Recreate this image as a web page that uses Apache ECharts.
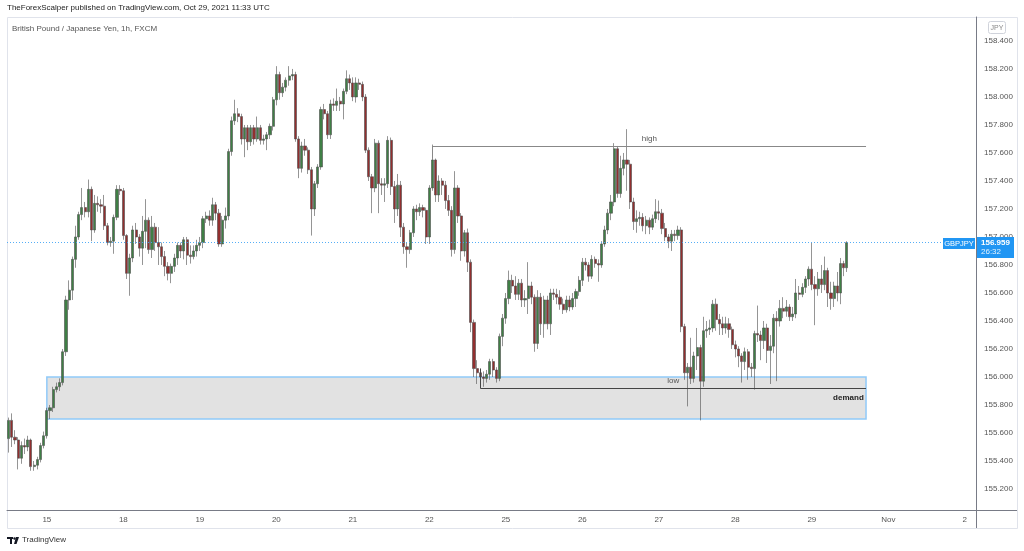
<!DOCTYPE html>
<html><head><meta charset="utf-8">
<script src="https://cdn.jsdelivr.net/npm/echarts@6/dist/echarts.min.js"></script>
<style>html,body{margin:0;padding:0;background:#fff}#c{width:1024px;height:551px}</style>
</head><body><div id="c"></div>
<script>
// ---- axis tick labels (x) ----
const tickLabels = ['15','18','19','20','21','22','25','26','27','28','29','Nov','2'];
const tickSlots  = [12,36,60,84,108,132,156,180,204,228,252,276,300];
const slotCount = 304;

// ---- hourly candles [open, close, low, high], GBPJPY FXCM ----
const oct14 = [
[155.56,155.69,155.46,155.71],[155.69,155.57,155.50,155.74],[155.57,155.55,155.52,155.62],[155.55,155.42,155.34,155.57],
[155.42,155.51,155.38,155.54],[155.51,155.50,155.45,155.56],[155.50,155.55,155.47,155.58],[155.55,155.36,155.33,155.56],
[155.36,155.37,155.33,155.40],[155.37,155.41,155.34,155.43],[155.41,155.51,155.39,155.53],[155.51,155.58,155.49,155.61]];
const oct15 = [
[155.58,155.76,155.56,155.78],[155.76,155.78,155.70,155.80],[155.78,155.91,155.75,155.93],[155.91,155.93,155.89,155.96],
[155.93,155.96,155.90,155.99],[155.96,156.18,155.94,156.20],[156.18,156.55,156.15,156.58],[156.55,156.62,156.48,156.69],
[156.62,156.84,156.55,156.86],[156.84,157.00,156.78,157.08],[157.00,157.16,156.98,157.18],[157.16,157.21,157.12,157.35],
[157.21,157.18,157.14,157.25],[157.18,157.34,157.14,157.41],[157.34,157.05,156.97,157.36],[157.05,157.24,157.03,157.30],
[157.24,157.23,157.18,157.29],[157.23,157.22,157.17,157.27],[157.22,157.08,157.05,157.30],[157.08,156.96,156.94,157.10],
[156.96,156.97,156.93,157.00],[156.97,157.14,156.88,157.16],[157.14,157.34,157.12,157.37],[157.34,157.33,157.30,157.37]];
const oct18 = [
[157.33,157.01,156.98,157.35],[157.01,156.74,156.70,157.02],[156.74,156.85,156.58,156.88],[156.85,157.05,156.82,157.08],
[157.05,157.00,156.95,157.10],[157.00,156.92,156.86,157.02],[156.92,157.04,156.80,157.15],[157.04,157.12,156.92,157.27],
[157.12,156.91,156.88,157.14],[156.91,157.07,156.85,157.15],[157.07,156.96,156.90,157.10],[156.96,156.93,156.80,157.07],
[156.93,156.86,156.80,156.96],[156.86,156.79,156.72,156.90],[156.79,156.74,156.69,156.82],[156.74,156.79,156.67,156.81],
[156.79,156.85,156.75,156.88],[156.85,156.94,156.80,156.96],[156.94,156.90,156.85,156.96],[156.90,156.98,156.84,157.00],
[156.98,156.87,156.80,157.00],[156.87,156.86,156.81,156.94],[156.86,156.90,156.84,156.94],[156.90,156.94,156.86,156.98]];
const oct19 = [
[156.94,156.96,156.90,157.00],[156.96,157.13,156.92,157.15],[157.13,157.15,157.10,157.18],[157.15,157.12,157.08,157.19],
[157.12,157.23,157.08,157.28],[157.23,157.17,157.12,157.25],[157.17,156.95,156.93,157.20],[156.95,157.12,156.93,157.15],
[157.12,157.15,157.06,157.21],[157.15,157.61,157.12,157.63],[157.61,157.83,157.58,157.86],[157.83,157.88,157.80,157.98],
[157.88,157.86,157.82,157.92],[157.86,157.70,157.66,157.88],[157.70,157.78,157.57,157.80],[157.78,157.68,157.62,157.80],
[157.68,157.78,157.65,157.80],[157.78,157.70,157.66,157.80],[157.70,157.78,157.68,157.86],[157.78,157.69,157.66,157.80],
[157.69,157.70,157.66,157.73],[157.70,157.73,157.62,157.75],[157.73,157.79,157.70,157.81],[157.79,157.98,157.76,158.00]];
const oct20 = [
[157.98,158.16,157.94,158.22],[158.16,158.03,157.98,158.18],[158.03,158.07,158.00,158.10],[158.07,158.12,158.04,158.14],
[158.12,158.15,158.08,158.22],[158.15,158.16,158.12,158.20],[158.16,157.70,157.68,158.18],[157.70,157.49,157.42,157.72],
[157.49,157.65,157.46,157.68],[157.65,157.62,157.58,157.70],[157.62,157.48,157.45,157.64],[157.48,157.20,157.01,157.50],
[157.20,157.38,157.15,157.40],[157.38,157.50,157.35,157.52],[157.50,157.91,157.48,157.93],[157.91,157.88,157.84,157.95],
[157.88,157.73,157.70,157.90],[157.73,157.95,157.70,157.98],[157.95,157.94,157.90,157.99],[157.94,157.97,157.90,158.06],
[157.97,157.95,157.90,158.00],[157.95,158.04,157.84,158.06],[158.04,158.13,158.02,158.19],[158.13,158.10,158.05,158.16]];
const oct21 = [
[158.10,158.00,157.97,158.14],[158.00,158.10,157.96,158.14],[158.10,158.09,158.05,158.13],[158.09,158.00,157.97,158.11],
[158.00,157.62,157.60,158.02],[157.62,157.43,157.40,157.64],[157.43,157.35,157.17,157.45],[157.35,157.67,157.32,157.70],
[157.67,157.38,157.17,157.69],[157.38,157.37,157.30,157.42],[157.37,157.38,157.25,157.42],[157.38,157.69,157.35,157.72],
[157.69,157.36,157.30,157.71],[157.36,157.20,157.10,157.40],[157.20,157.37,157.15,157.45],[157.37,157.07,157.00,157.40],
[157.07,156.93,156.88,157.10],[156.93,156.91,156.78,156.96],[156.91,157.03,156.88,157.05],[157.03,157.20,157.00,157.22],
[157.20,157.18,157.12,157.23],[157.18,157.21,157.15,157.24],[157.21,157.19,157.14,157.23],[157.19,157.00,156.95,157.21]];
const oct22 = [
[157.00,157.35,156.95,157.37],[157.35,157.55,157.33,157.66],[157.55,157.30,157.25,157.56],[157.30,157.40,157.25,157.44],
[157.40,157.37,157.30,157.42],[157.37,157.26,157.20,157.40],[157.26,157.19,157.15,157.30],[157.19,156.91,156.86,157.22],
[156.91,157.35,156.88,157.47],[157.35,157.15,157.10,157.37],[157.15,156.90,156.83,157.17],[156.90,157.03,156.86,157.05],
[157.03,156.82,156.75,157.06],[156.82,156.39,156.32,156.84],[156.39,156.06,156.00,156.41],[156.06,156.03,155.95,156.12],
[156.03,156.00,155.92,156.06],[156.00,155.99,155.93,156.04],[155.99,156.02,155.96,156.05],[156.02,156.11,155.98,156.13],
[156.11,156.05,156.00,156.13],[156.05,155.99,155.96,156.07],[155.99,156.29,155.97,156.31],[156.29,156.42,156.22,156.45]];
const oct25 = [
[156.42,156.56,156.38,156.60],[156.56,156.69,156.52,156.76],[156.69,156.65,156.60,156.73],[156.65,156.59,156.55,156.72],
[156.59,156.67,156.55,156.70],[156.67,156.55,156.50,156.70],[156.55,156.56,156.50,156.62],[156.56,156.65,156.45,156.82],
[156.65,156.57,156.52,156.68],[156.57,156.24,156.18,156.59],[156.24,156.57,156.20,156.62],[156.57,156.38,156.30,156.60],
[156.38,156.55,156.28,156.58],[156.55,156.38,156.34,156.58],[156.38,156.60,156.30,156.63],[156.60,156.59,156.55,156.63],
[156.59,156.57,156.52,156.63],[156.57,156.52,156.48,156.62],[156.52,156.48,156.45,156.56],[156.48,156.55,156.46,156.58],
[156.55,156.50,156.47,156.58],[156.50,156.56,156.48,156.60],[156.56,156.61,156.50,156.63],[156.61,156.69,156.58,156.72]];
const oct26 = [
[156.69,156.82,156.65,156.85],[156.82,156.80,156.76,156.85],[156.80,156.72,156.68,156.82],[156.72,156.84,156.70,156.87],
[156.84,156.81,156.78,156.86],[156.81,156.80,156.68,156.84],[156.80,156.95,156.78,156.97],[156.95,157.05,156.93,157.08],
[157.05,157.17,157.02,157.20],[157.17,157.25,157.12,157.30],[157.25,157.63,157.22,157.67],[157.63,157.31,157.28,157.65],
[157.31,157.49,157.28,157.58],[157.49,157.55,157.44,157.60],[157.55,157.52,157.33,157.77],[157.52,157.25,157.20,157.55],
[157.25,157.11,157.05,157.28],[157.11,157.13,157.03,157.19],[157.13,157.14,157.08,157.18],[157.14,157.08,157.04,157.17],
[157.08,157.12,157.02,157.15],[157.12,157.07,157.02,157.14],[157.07,157.13,157.05,157.16],[157.13,157.18,157.10,157.27]];
const oct27 = [
[157.18,157.17,157.12,157.26],[157.17,157.06,157.02,157.20],[157.06,157.00,156.97,157.10],[157.00,156.97,156.92,157.02],
[156.97,157.02,156.90,157.05],[157.02,157.01,156.97,157.05],[157.01,157.05,156.98,157.08],[157.05,156.36,156.32,157.07],
[156.36,156.03,155.98,156.38],[156.03,156.07,155.79,156.10],[156.07,155.99,155.95,156.28],[155.99,156.15,155.96,156.18],
[156.15,156.21,156.05,156.35],[156.21,155.97,155.69,156.23],[155.97,156.33,155.93,156.43],[156.33,156.34,156.28,156.40],
[156.34,156.35,156.30,156.41],[156.35,156.52,156.32,156.55],[156.52,156.41,156.33,156.56],[156.41,156.38,156.30,156.45],
[156.38,156.35,156.30,156.43],[156.35,156.38,156.31,156.43],[156.38,156.34,156.28,156.42],[156.34,156.23,156.20,156.36]];
const oct28 = [
[156.23,156.20,156.14,156.26],[156.20,156.15,156.07,156.22],[156.15,156.11,155.96,156.17],[156.11,156.18,156.05,156.21],
[156.18,156.07,155.98,156.20],[156.07,156.06,156.00,156.10],[156.06,156.31,155.91,156.33],[156.31,156.30,156.25,156.51],
[156.30,156.26,156.12,156.33],[156.26,156.35,156.20,156.40],[156.35,156.19,156.10,156.38],[156.19,156.22,155.95,156.30],
[156.22,156.42,156.17,156.45],[156.42,156.40,155.97,156.47],[156.40,156.49,156.36,156.55],[156.49,156.47,156.42,156.57],
[156.47,156.50,156.43,156.55],[156.50,156.43,156.40,156.52],[156.43,156.45,156.40,156.50],[156.45,156.60,156.42,156.70],
[156.60,156.59,156.55,156.65],[156.59,156.64,156.57,156.67],[156.64,156.70,156.60,156.72],[156.70,156.77,156.65,156.79]];
const oct29 = [
[156.77,156.66,156.62,156.96],[156.66,156.63,156.37,156.72],[156.63,156.70,156.58,156.75],[156.70,156.66,156.60,156.80],
[156.66,156.76,156.62,156.86],[156.76,156.60,156.50,156.78],[156.60,156.56,156.48,156.68],[156.56,156.65,156.50,156.68],
[156.65,156.60,156.54,156.75],[156.60,156.81,156.52,156.85],[156.81,156.78,156.72,156.83],[156.78,156.959,156.75,156.97]];

// ---- annotations ----
const lastPrice = 156.959;
const countdown = '26:32';
const demandZone = {fromSlot: 12, toSlot: 269, top: 156.00, bottom: 155.70};
const highLevel = {fromSlot: 133, toSlot: 269, price: 157.65, stemTo: 157.56};
const lowLevel  = {fromSlot: 148, toSlot: 269, price: 155.92, stemTo: 156.06};

const candles = [].concat(oct14, oct15, oct18, oct19, oct20, oct21, oct22, oct25, oct26, oct27, oct28, oct29);
const slots = [];
for (let i = 0; i < slotCount; i++) slots.push(String(i));
const labelMap = {};
tickSlots.forEach((s, k) => { labelMap[s] = tickLabels[k]; });

const FONT = 'Liberation Sans';
const chart = echarts.init(document.getElementById('c'), null, {renderer: 'canvas'});
const option = {
  animation: false,
  backgroundColor: '#ffffff',
  textStyle: {fontFamily: FONT},
  grid: {left: 7, right: 48, top: 17, bottom: 41},
  xAxis: {
    type: 'category', data: slots, boundaryGap: true,
    axisLine: {show: true, lineStyle: {color: '#787b86', width: 1}},
    axisTick: {show: false},
    splitLine: {show: false},
    axisLabel: {
      interval: (i) => labelMap[i] !== undefined,
      formatter: (v, i) => labelMap[i] || '',
      color: '#555', fontSize: 8, margin: 6, fontFamily: FONT
    }
  },
  yAxis: {
    type: 'value', position: 'right', scale: true,
    min: 155.05, max: 158.571, splitNumber: 17, minInterval: 0.2, maxInterval: 0.2,
    axisLine: {show: true, lineStyle: {color: '#787b86', width: 1}},
    axisTick: {show: false},
    splitLine: {show: false},
    axisLabel: {color: '#555', fontSize: 8, margin: 8, fontFamily: FONT,
      showMinLabel: false, showMaxLabel: false,
      formatter: (v) => v.toFixed(3)}
  },
  series: [{
    type: 'candlestick',
    data: candles,
    barWidth: 2.6,
    itemStyle: {color: '#3f7f45', color0: '#922f2f', borderColor: '#4d4d4d', borderColor0: '#4d4d4d', borderWidth: 0.6},
    markArea: {
      silent: true,
      itemStyle: {color: 'rgba(224,224,224,0.95)', borderColor: '#90caf9', borderWidth: 1.5},
      label: {show: true, position: 'insideRight', distance: 3, formatter: 'demand', color: '#222', fontWeight: 'bold', fontSize: 8, fontFamily: FONT},
      data: [[{coord: [String(demandZone.fromSlot), demandZone.top]}, {coord: [String(demandZone.toSlot), demandZone.bottom]}]]
    },
    markLine: {
      silent: true, symbol: 'none', animation: false,
      data: [
        [{coord: [String(highLevel.fromSlot), highLevel.stemTo], lineStyle: {color: '#888', width: 1, type: 'solid'}, label: {show: false}},
         {coord: [String(highLevel.fromSlot), highLevel.price]}],
        [{coord: [String(highLevel.fromSlot), highLevel.price], lineStyle: {color: '#888', width: 1, type: 'solid'},
          label: {show: true, position: 'middle', formatter: 'high', color: '#555', fontSize: 8, fontFamily: FONT, distance: 3}},
         {coord: [String(highLevel.toSlot), highLevel.price]}],
        [{coord: [String(lowLevel.fromSlot), lowLevel.stemTo], lineStyle: {color: '#444', width: 1, type: 'solid'}, label: {show: false}},
         {coord: [String(lowLevel.fromSlot), lowLevel.price]}],
        [{coord: [String(lowLevel.fromSlot), lowLevel.price], lineStyle: {color: '#444', width: 1, type: 'solid'},
          label: {show: true, position: 'middle', formatter: 'low', color: '#555', fontSize: 8, fontFamily: FONT, distance: 3}},
         {coord: [String(lowLevel.toSlot), lowLevel.price]}],
        {yAxis: lastPrice, lineStyle: {color: '#42a5f5', width: 1, type: [1, 2], opacity: 0.9}, label: {show: false}}
      ]
    }
  }],
  graphic: [
    {type: 'rect', id: 'frame', shape: {x: 7.5, y: 17.5, width: 1010, height: 511}, style: {fill: 'none', stroke: '#e0e3eb', lineWidth: 1}, z: 0, silent: true},
    {type: 'line', id: 'xline', shape: {x1: 7, y1: 510.5, x2: 1017, y2: 510.5}, style: {stroke: '#787b86', lineWidth: 1}, z: 10},
    {type: 'line', id: 'yline', shape: {x1: 976.5, y1: 17, x2: 976.5, y2: 528}, style: {stroke: '#787b86', lineWidth: 1}, z: 10},
    {type: 'text', left: 7, top: 4, style: {text: 'TheForexScalper published on TradingView.com, Oct 29, 2021 11:33 UTC', fill: '#222', fontSize: 8, fontFamily: FONT}},
    {type: 'text', left: 12, top: 25, style: {text: 'British Pound / Japanese Yen, 1h, FXCM', fill: '#555', fontSize: 8, fontFamily: FONT}},
    {type: 'rect', shape: {x: 988.5, y: 21.5, width: 17, height: 12, r: 2}, style: {fill: '#fff', stroke: '#d0d3db', lineWidth: 1}},
    {type: 'text', x: 997, y: 28, style: {text: 'JPY', fill: '#888', fontSize: 7, fontFamily: FONT, align: 'center', verticalAlign: 'middle'}},
    // TradingView logo (shape) + wordmark
    {type: 'rect', shape: {x: 7, y: 537, width: 6, height: 2}, style: {fill: '#131722'}},
    {type: 'rect', shape: {x: 10, y: 537, width: 2, height: 7}, style: {fill: '#131722'}},
    {type: 'circle', shape: {cx: 14.5, cy: 538.5, r: 1.2}, style: {fill: '#131722'}},
    {type: 'polygon', shape: {points: [[16, 537], [19, 537], [16.5, 544], [14, 544]]}, style: {fill: '#131722'}},
    {type: 'text', left: 22, top: 536, style: {text: 'TradingView', fill: '#333', fontSize: 8, fontFamily: FONT}}
  ]
};
chart.setOption(option);

const yPix = Math.round(chart.convertToPixel({yAxisIndex: 0}, lastPrice));
chart.setOption({graphic: [
  {type: 'rect', id: 'sym', shape: {x: 943, y: yPix - 5, width: 32, height: 11}, style: {fill: '#2196f3'}, z: 20},
  {type: 'text', id: 'symt', x: 959, y: yPix + 0.5, style: {text: 'GBPJPY', fill: '#fff', fontSize: 7.5, fontFamily: FONT, align: 'center', verticalAlign: 'middle'}, z: 21},
  {type: 'rect', id: 'pbox', shape: {x: 977, y: yPix - 6, width: 37, height: 21}, style: {fill: '#2196f3'}, z: 20},
  {type: 'text', id: 'pval', x: 981, y: yPix, style: {text: lastPrice.toFixed(3), fill: '#fff', fontSize: 8, fontWeight: 'bold', fontFamily: FONT, verticalAlign: 'middle'}, z: 21},
  {type: 'text', id: 'pcd', x: 981, y: yPix + 9, style: {text: countdown, fill: '#e3f2fd', fontSize: 8, fontFamily: FONT, verticalAlign: 'middle'}, z: 21}
]});
</script></body></html>
